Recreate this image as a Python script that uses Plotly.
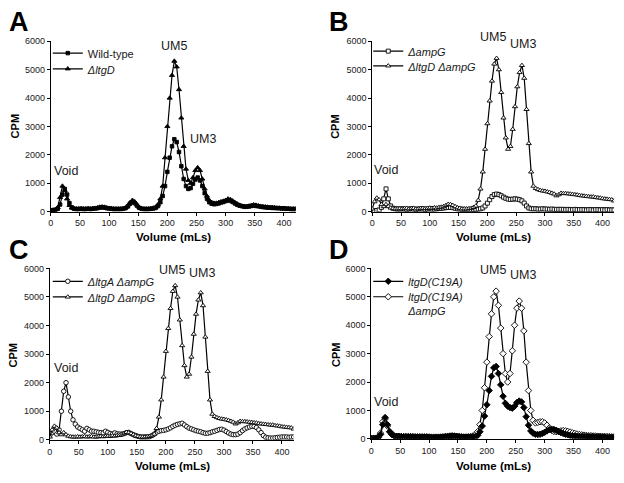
import plotly.graph_objects as go

# Elution volume of each collected fraction (mL)
volume = list(range(0, 424, 4))

# Panel A
wt_A = [40, 50, 60, 100, 250, 600, 800, 600, 300, 150,
        100, 90, 90, 100, 90, 90, 100, 90, 100, 110,
        120, 140, 150, 140, 120, 110, 100, 90, 90, 90,
        90, 100, 120, 180, 280, 330, 300, 210, 130, 100,
        90, 90, 90, 100, 110, 130, 200, 330, 550, 900,
        1400, 1900, 2300, 2550, 2450, 2100, 1600, 1150, 900, 800,
        830, 980, 1130, 1200, 1100, 900, 650, 450, 330, 280,
        260, 270, 290, 320, 340, 370, 400, 380, 340, 290,
        240, 210, 190, 170, 170, 180, 200, 210, 200, 190,
        170, 160, 150, 140, 140, 130, 130, 120, 120, 110,
        110, 100, 100, 90, 90, 90]
ltgD_A = [50, 60, 80, 150, 500, 900, 750, 450, 220, 130,
          110, 100, 100, 110, 100, 100, 110, 100, 110, 120,
          140, 160, 170, 160, 140, 120, 110, 100, 100, 100,
          100, 110, 130, 200, 320, 400, 350, 240, 150, 110,
          100, 100, 100, 110, 130, 160, 250, 450, 900, 1900,
          3000, 4000, 4800, 5300, 5100, 4300, 3300, 2300, 1500, 1100,
          1000, 1200, 1450, 1550, 1450, 1150, 800, 550, 400, 330,
          300, 300, 320, 350, 370, 400, 450, 430, 380, 320,
          270, 230, 200, 190, 190, 200, 220, 240, 230, 210,
          190, 180, 170, 160, 150, 150, 140, 130, 130, 120,
          120, 110, 110, 100, 100, 100]

# Panel B
ampG_B = [20, 30, 40, 60, 150, 450, 800, 450, 200, 120,
          100, 90, 90, 100, 90, 80, 90, 100, 90, 80,
          90, 100, 90, 80, 90, 100, 90, 90, 100, 110,
          120, 130, 140, 150, 150, 140, 120, 100, 90, 80,
          80, 70, 70, 70, 80, 80, 90, 100, 130, 200,
          300, 420, 530, 600, 620, 600, 560, 510, 470, 440,
          430, 440, 450, 440, 420, 380, 300, 200, 130, 100,
          100, 100, 90, 90, 100, 90, 90, 80, 90, 80,
          80, 80, 80, 80, 70, 80, 70, 70, 80, 70,
          70, 70, 70, 60, 70, 70, 60, 70, 70, 60,
          70, 60, 70, 60, 60, 60]
# ltgD ampG double mutant (shown in panels B and C)
ltgD_ampG = [100, 350, 480, 420, 250, 180, 250, 180, 130, 110,
             100, 100, 110, 100, 110, 120, 100, 110, 120, 100,
             100, 110, 120, 110, 120, 130, 120, 140, 130, 150,
             160, 180, 220, 260, 250, 220, 180, 140, 120, 100,
             100, 100, 110, 120, 150, 200, 400, 800, 1400, 2200,
             3100, 3900, 4600, 5200, 5400, 5000, 4200, 3300, 2600, 2200,
             2300, 2900, 3700, 4400, 4900, 5150, 4700, 3600, 2400, 1400,
             900, 820, 780, 750, 730, 720, 700, 680, 650, 620,
             560, 600, 650, 640, 640, 630, 620, 610, 600, 590,
             570, 560, 550, 540, 530, 520, 520, 500, 490, 480,
             460, 450, 440, 430, 420, 380]

# Panel C
ltgA_ampG = [150, 250, 300, 200, 350, 1000, 1700, 2000, 1500, 1000,
             700, 550, 450, 400, 350, 300, 400, 350, 300, 300,
             280, 260, 250, 240, 300, 260, 220, 200, 240, 210,
             200, 200, 220, 250, 260, 220, 180, 150, 120, 100,
             100, 100, 100, 110, 150, 200, 270, 300, 320, 330,
             350, 380, 420, 470, 510, 540, 560, 580, 520, 460,
             410, 380, 350, 320, 300, 280, 250, 230, 230, 250,
             280, 300, 330, 360, 370, 340, 290, 240, 200, 180,
             180, 200, 250, 320, 380, 420, 450, 470, 470, 430,
             350, 250, 150, 90, 70, 60, 60, 70, 80, 90,
             100, 100, 100, 90, 100, 100]

# Panel D
c19a = [20, 20, 20, 40, 150, 500, 750, 500, 250, 150,
        100, 90, 80, 80, 70, 70, 70, 70, 60, 60,
        60, 60, 60, 60, 60, 60, 50, 50, 50, 50,
        60, 60, 70, 80, 90, 100, 100, 90, 80, 70,
        60, 60, 60, 60, 70, 80, 120, 250, 450, 800,
        1200, 1700, 2200, 2500, 2550, 2300, 1900, 1500, 1250, 1150,
        1100, 1080, 1150, 1280, 1330, 1300, 1100, 780, 480, 280,
        200, 160, 150, 160, 190, 230, 280, 320, 340, 330,
        300, 260, 220, 190, 160, 140, 120, 110, 100, 90,
        90, 80, 80, 80, 70, 70, 70, 60, 60, 60,
        60, 60, 50, 50, 50, 50]
c19a_ampG = [20, 20, 20, 40, 200, 600, 700, 450, 250, 150,
             100, 90, 90, 80, 80, 80, 80, 80, 80, 70,
             70, 70, 70, 70, 70, 60, 60, 60, 60, 60,
             60, 70, 80, 90, 100, 100, 90, 80, 70, 60,
             60, 60, 70, 80, 100, 150, 250, 500, 1000, 1800,
             2700, 3600, 4400, 5000, 5200, 4700, 3900, 3000, 2300, 2000,
             2300, 3100, 4000, 4600, 4850, 4600, 3800, 2700, 1700, 1000,
             650, 560, 580, 600, 600, 560, 480, 380, 300, 260,
             250, 260, 280, 290, 280, 260, 240, 210, 190, 170,
             150, 140, 130, 120, 110, 110, 100, 100, 90, 90,
             90, 80, 80, 80, 70, 70]

x_ticks = [0, 50, 100, 150, 200, 250, 300, 350, 400]
y_ticks = [0, 1000, 2000, 3000, 4000, 5000, 6000]

W, H = 624, 483
FONT = "Liberation Sans, Arial, sans-serif"
INK = "#1a1a1a"


def xd(a, b):
    return [a / W, b / W]


def yd(top, bottom):
    return [1 - bottom / H, 1 - top / H]


def px(x):
    return x / W


def py(y):
    return 1 - y / H


# pixel boxes of the four plot areas: (left, right, top, bottom)
boxes = {
    "1": (48, 294, 37, 211),
    "2": (371, 614, 37, 211),
    "3": (47, 292, 269, 444),
    "4": (370, 614, 269, 443),
}

fig = go.Figure()


def add(series, name, axis, symbol, filled, size, legend):
    fig.add_trace(go.Scatter(
        x=volume, y=series, name=name, mode="lines+markers",
        xaxis="x" if axis == "1" else "x" + axis,
        yaxis="y" if axis == "1" else "y" + axis,
        line=dict(color="black", width=1.2),
        marker=dict(symbol=symbol, size=size,
                    color="black" if filled else "white",
                    line=dict(color="black", width=0.9)),
        legend=legend, showlegend=True,
    ))


add(wt_A, "Wild-type", "1", "square", True, 3.5, "legend")
add(ltgD_A, "<i>ΔltgD</i>", "1", "triangle-up", True, 4.5, "legend2")
add(ampG_B, "<i>ΔampG</i>", "2", "square", False, 4, "legend3")
add(ltgD_ampG, "<i>ΔltgD ΔampG</i>", "2", "triangle-up", False, 4.5, "legend4")
add(ltgA_ampG, "<i>ΔltgA ΔampG</i>", "3", "circle", False, 4.5, "legend5")
add(ltgD_ampG, "<i>ΔltgD ΔampG</i>", "3", "triangle-up", False, 4.5, "legend6")
add(c19a_ampG, "<i>ltgD(C19A)</i><br><i>ΔampG</i>", "4", "diamond", False, 5, "legend8")
add(c19a, "<i>ltgD(C19A)</i>", "4", "diamond", True, 5, "legend7")

layout = dict(
    width=W, height=H, margin=dict(l=0, r=0, t=0, b=0),
    paper_bgcolor="white", plot_bgcolor="white",
    font=dict(family=FONT, color=INK, size=9),
)

for k, (l, r, t, b) in boxes.items():
    xa = "xaxis" if k == "1" else "xaxis" + k
    ya = "yaxis" if k == "1" else "yaxis" + k
    layout[xa] = dict(
        domain=xd(l, r), range=[0, 420], anchor="y" if k == "1" else "y" + k,
        tickvals=x_ticks, ticks="outside", ticklen=3, tickwidth=1, tickcolor="black",
        showline=True, linecolor="black", linewidth=1, showgrid=False, zeroline=False,
        tickfont=dict(size=9, color=INK),
    )
    layout[ya] = dict(
        domain=yd(t, b), range=[0, 6000], anchor="x" if k == "1" else "x" + k,
        tickvals=y_ticks, ticks="outside", ticklen=3, tickwidth=1, tickcolor="black",
        showline=True, linecolor="black", linewidth=1, showgrid=False, zeroline=False,
        tickfont=dict(size=9, color=INK),
    )

# legends: one per entry so each row sits at its own position
leg_pos = {
    "legend": (45, 50), "legend2": (45, 66),
    "legend3": (367, 48), "legend4": (367, 63),
    "legend5": (45, 283), "legend6": (45, 299),
    "legend7": (367, 283), "legend8": (367, 284),
}
for name, (lx, ly) in leg_pos.items():
    layout[name] = dict(
        x=px(lx), y=py(ly), xanchor="left",
        yanchor="top" if name == "legend8" else "middle",
        valign="top",
        bgcolor="rgba(0,0,0,0)", borderwidth=0,
        font=dict(family=FONT, size=11, color=INK),
        itemwidth=30,
    )

ann = []


def text(x, y, s, size=12, bold=False, angle=0):
    ann.append(dict(x=px(x), y=py(y), xref="paper", yref="paper", text=s,
                    showarrow=False, xanchor="center", yanchor="middle",
                    textangle=angle,
                    font=dict(family=FONT, size=size, color=INK if not bold else "black")))


# panel letters
for s, (x, y) in {"A": (16, 17), "B": (338, 17), "C": (16, 250), "D": (338, 250)}.items():
    text(x, y, "<b>" + s + "</b>", size=27, bold=True)

# peak labels
for (x, y, s) in [(172, 42, "UM5"), (201, 137, "UM3"), (63, 169, "Void"),
                  (492, 33, "UM5"), (523, 40, "UM3"), (385, 168, "Void"),
                  (170, 271, "UM5"), (200, 274, "UM3"), (63, 371, "Void"),
                  (492, 271, "UM5"), (523, 276, "UM3"), (385, 405, "Void")]:
    text(x, y, s, size=12.5)

# axis titles
for (x, y) in [(12, 124), (334, 124), (10, 358), (334, 357)]:
    text(x, y, "<b>CPM</b>", size=11, bold=True, angle=-90)
for (x, y) in [(171, 237), (493, 237), (170, 471), (493, 471)]:
    text(x, y, "<b>Volume (mLs)</b>", size=11.5, bold=True)

layout["annotations"] = ann
fig.update_layout(**layout)
fig.write_html("out.html", config={"displayModeBar": False, "staticPlot": True},
               post_script="document.body.style.margin='0px';")
